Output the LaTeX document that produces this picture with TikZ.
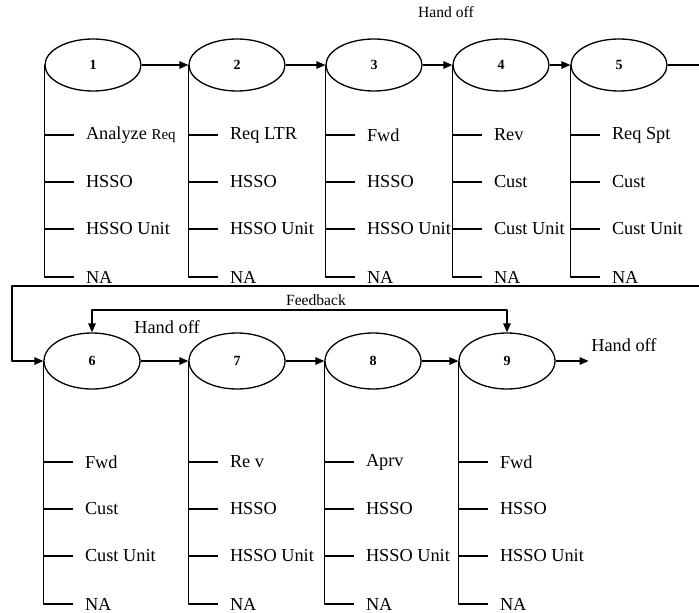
\documentclass[tikz,border=0pt]{standalone}
\usepackage{fontspec}
\setmainfont{Liberation Serif}
\usetikzlibrary{shapes.geometric,arrows.meta}
\newcommand\reqsmall{\fontsize{15}{17}\selectfont}
\begin{document}
\begin{tikzpicture}[x=1pt,y=-1pt,line join=round,>={Triangle[length=9pt,width=7.5pt]},line width=1.3pt]
	\tikzset{task/.style={draw,ellipse,minimum width=96pt,minimum height=52pt,inner sep=0pt,font=\fontsize{14}{16}\selectfont\bfseries},
		task low/.style={task,minimum height=56pt},
		item/.style={anchor=west,inner sep=0pt,inner xsep=11pt,font=\fontsize{18.3}{22}\selectfont},
		handoff/.style={inner sep=1pt,font=\fontsize{18.3}{22}\selectfont},
		small handoff/.style={inner sep=1pt,font=\fontsize{15.6}{18}\selectfont}}
	\useasboundingbox (0,0) rectangle (699,613);
	% first row
	\node[task] (e1) at (93,65) {1};
	\node[task] (e2) at (237,65) {2};
	\node[task] (e3) at (374,65) {3};
	\node[task] (e4) at (501,65) {4};
	\node[task] (e5) at (619,65) {5};
	% second row
	\node[task low] (e6) at (92,361) {6};
	\node[task low] (e7) at (237,361) {7};
	\node[task low] (e8) at (373,361) {8};
	\node[task low] (e9) at (507,361) {9};
	\foreach \a/\b in {e1/e2,e2/e3,e3/e4,e4/e5,e6/e7,e7/e8,e8/e9}
	\draw[->] (\a.east) -- (\b.west);
	% branches
	\foreach \e/\ty/\ta/\tb/\tc in {e1/135/{Analyze \reqsmall Req}/HSSO/HSSO Unit,
		e2/135/Req LTR/HSSO/HSSO Unit, e3/135/Fwd/HSSO/HSSO Unit,
		e4/135/Rev/Cust/Cust Unit, e5/135/Req Spt/Cust/Cust Unit,
		e6/462/Fwd/Cust/Cust Unit, e7/462/Re v/HSSO/HSSO Unit,
		e8/462/Aprv/HSSO/HSSO Unit, e9/462/Fwd/HSSO/HSSO Unit}
	{
		\node[item,xshift=30pt] (\e-a) at (\e.west |- 0,\ty) {\ta};
		\node[item,xshift=30pt,yshift=-47pt] (\e-b) at (\e.west |- 0,\ty) {\tb};
		\node[item,xshift=30pt,yshift=-94pt] (\e-c) at (\e.west |- 0,\ty) {\tc};
		\node[item,xshift=30pt,yshift=-142pt] (\e-d) at (\e.west |- 0,\ty) {NA};
		\draw (\e.west) |- (\e-d.west);
		\foreach \k in {a,b,c}
		\draw (\e-\k.west -| \e.west) -- (\e-\k.west);
	}
	% loop back and feedback
	\coordinate (backR) at (704,286);
	\coordinate (backL) at (12,286);
	\draw[->] (e5.east) -| (backR) -- (backL) |- (e6.west);
	\coordinate (fb) at (300,310);
	\draw[<->] (e6.north) |- (fb) -| (e9.north);
	\node[small handoff] (fbtext) at (316,300) {Feedback};
	\draw[->] (e9.east) -- ++(33,0) coordinate (exit);
	\node[small handoff] (hand1) at (446,12) {Hand off};
	\node[handoff] (hand2) at (167,327) {Hand off};
	\node[handoff,anchor=west] (hand3) at ([xshift=1pt,yshift=16pt]exit) {Hand off};
\end{tikzpicture}
\end{document}
